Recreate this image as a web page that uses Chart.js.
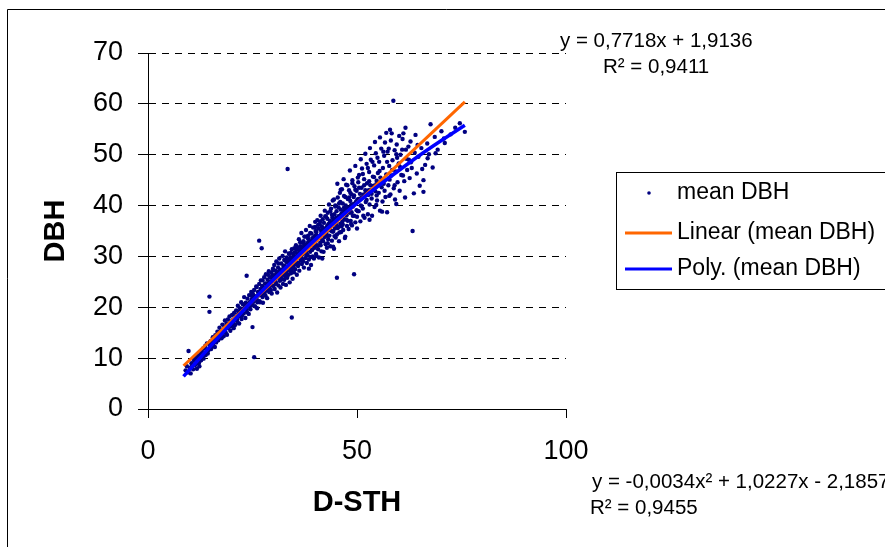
<!DOCTYPE html>
<html>
<head>
<meta charset="utf-8">
<script src="https://cdn.jsdelivr.net/npm/chart.js@4/dist/chart.umd.min.js"></script>
<style>
  html, body { margin: 0; padding: 0; background: #fff; }
  #wrap { width: 885px; height: 547px; }
</style>
</head>
<body>
<div id="wrap"><canvas id="dbhChart" width="885" height="547"></canvas></div>
<script>
// D-STH (x) vs mean DBH (y)
const meanDbhPoints = [
  [9.0,7.6],[9.3,8.4],[9.6,7.2],[9.7,11.4],[10.0,8.1],[10.2,7.0],[10.4,9.0],[10.5,8.3],[10.8,7.8],[11.0,9.6],[11.2,8.6],[11.3,10.1],[11.5,8.9],[11.7,7.9],[11.9,9.9],[12.0,10.5],[12.2,9.2],[12.3,8.4],
  [12.5,10.8],[12.7,9.6],[12.9,11.3],[13.0,10.2],[13.2,11.9],[13.3,9.9],[13.5,11.0],[13.7,12.4],[13.8,10.6],[14.0,11.7],[14.1,12.9],[14.3,10.9],[14.5,11.6],[14.7,22.1],[14.7,19.1],[14.8,12.6],[15.0,13.4],[15.1,11.8],[15.3,12.3],[15.5,14.1],[15.6,12.9],[15.8,13.6],[16.0,12.2],[16.1,14.5],[16.3,13.1],
  [16.5,14.0],[16.6,15.2],[16.8,13.5],[17.0,14.6],[17.1,16.0],[17.3,14.2],[17.5,15.5],[17.6,13.9],[17.8,16.6],[18.0,15.1],[18.1,14.3],[18.3,16.2],[18.4,17.4],[18.6,15.0],[18.8,16.8],[18.9,14.6],[19.1,17.6],[19.2,15.9],[19.4,16.5],[19.5,18.2],[19.7,15.4],[19.8,17.2],[20.0,16.3],[20.1,18.5],[20.3,17.0],
  [20.5,15.9],[20.6,18.9],[20.8,17.5],[20.9,16.6],[21.1,19.4],[21.2,18.0],[21.4,17.1],[21.5,20.3],[21.7,18.6],[21.8,16.8],[22.0,19.8],[22.1,18.2],[22.3,21.0],[22.4,17.7],[22.6,19.3],[22.7,20.6],[22.9,18.8],[23.0,22.0],[23.1,19.9],[23.3,17.9],[23.4,20.9],[23.6,26.2],[23.6,19.5],[23.8,21.7],[23.9,20.2],[24.1,18.7],[24.2,22.4],[24.4,21.0],[24.5,19.6],[24.7,23.0],[24.8,21.5],[25.0,16.1],[25.0,20.4],[25.1,22.6],
  [25.3,21.1],[25.4,10.2],[25.4,23.4],[25.6,20.2],[25.7,22.0],[25.9,24.1],[26.0,21.6],[26.1,19.8],[26.3,23.0],[26.4,22.3],[26.6,33.1],[26.6,24.6],[26.7,21.2],[26.9,23.6],[27.0,25.3],[27.2,31.6],[27.2,22.5],[27.3,24.2],[27.5,20.9],[27.6,23.9],[27.8,25.9],[27.9,22.8],[28.0,24.7],[28.2,26.5],[28.3,23.3],[28.5,21.8],[28.6,25.4],[28.8,24.0],[28.9,27.1],[29.0,23.0],[29.2,25.9],[29.3,24.5],[29.5,26.8],[29.6,22.7],[29.8,25.1],[29.9,27.6],[30.0,24.2],
  [30.1,26.0],[30.2,28.3],[30.3,23.6],[30.4,25.4],[30.5,27.2],[30.6,24.8],[30.7,29.0],[30.8,26.6],[30.9,22.9],[31.0,25.9],[31.1,27.8],[31.2,24.3],[31.3,26.9],[31.4,29.6],[31.5,25.2],[31.6,27.4],[31.7,23.9],[31.8,26.3],[31.9,28.6],[32.0,25.7],[32.1,27.0],[32.2,30.1],[32.3,24.6],[32.4,26.8],[32.5,28.2],[32.6,25.4],[32.7,27.6],[32.8,31.0],[32.9,26.1],[33.0,24.4],[33.1,28.9],[33.2,27.1],[33.3,25.8],[33.4,47.2],[33.4,29.5],[33.5,27.9],[33.6,26.4],[33.7,30.6],[33.8,28.0],[33.9,24.9],[34.0,27.3],[34.1,29.8],[34.2,26.7],[34.3,28.6],[34.4,18.0],[34.4,31.4],[34.5,27.7],[34.6,25.6],[34.7,29.2],[34.8,30.3],[34.9,26.9],[35.0,28.4],
  [35.1,30.8],[35.2,27.5],[35.3,29.6],[35.4,32.2],[35.5,28.8],[35.6,26.4],[35.7,30.1],[35.8,31.6],[35.9,28.1],[36.0,29.9],[36.1,33.4],[36.2,27.2],[36.3,30.7],[36.4,32.0],[36.5,29.3],[36.6,31.2],[36.7,34.6],[36.8,28.5],[36.9,30.4],[37.0,32.7],[37.1,29.0],[37.2,31.5],[37.3,27.8],[37.4,33.9],[37.5,30.6],[37.6,32.3],[37.7,29.7],[37.8,35.2],[37.9,31.0],[38.0,28.7],[38.1,32.6],[38.2,30.2],[38.3,34.1],[38.4,31.8],[38.5,29.4],[38.6,33.0],[38.7,36.0],[38.8,30.9],[38.9,32.4],[39.0,28.3],[39.1,34.5],[39.2,31.3],[39.3,33.6],[39.4,30.0],[39.5,35.7],[39.6,32.1],[39.7,29.6],[39.8,34.0],[39.9,31.7],[40.0,36.8],
  [40.1,33.0],[40.2,30.5],[40.3,34.8],[40.4,32.2],[40.5,37.1],[40.6,33.9],[40.7,31.4],[40.8,35.5],[40.9,29.8],[41.0,33.6],[41.1,36.4],[41.2,32.7],[41.3,38.0],[41.4,34.4],[41.5,31.0],[41.6,35.9],[41.7,33.2],[41.8,37.3],[41.9,34.9],[42.0,30.9],[42.1,36.6],[42.2,33.8],[42.3,39.0],[42.4,35.2],[42.5,32.4],[42.6,37.8],[42.7,34.6],[42.8,31.7],[42.9,36.1],[43.0,38.6],[43.1,33.4],[43.2,35.7],[43.3,40.2],[43.4,34.1],[43.5,37.0],[43.6,32.0],[43.7,36.3],[43.8,39.4],[43.9,35.0],[44.0,33.1],[44.1,37.6],[44.2,41.0],[44.3,34.9],[44.4,36.8],[44.5,31.5],[44.6,38.3],[44.7,35.5],[44.8,40.0],[44.9,33.7],[45.0,36.2],[45.2,25.8],
  [45.1,38.9],[45.2,34.3],[45.3,37.4],[45.4,41.6],[45.5,35.8],[45.6,39.6],[45.7,33.0],[45.8,37.9],[45.9,42.5],[46.0,36.4],[46.1,39.2],[46.2,34.8],[46.3,38.4],[46.4,43.2],[46.5,36.9],[46.6,40.4],[46.7,35.2],[46.8,38.8],[46.9,41.9],[47.0,37.3],[47.2,33.9],[47.3,40.0],[47.4,44.1],[47.5,38.1],[47.6,36.0],[47.8,41.3],[47.9,39.3],[48.0,35.4],[48.1,43.0],[48.3,38.6],[48.4,40.9],[48.5,37.0],[48.7,42.2],[48.8,36.1],[48.9,45.0],[49.0,39.8],[49.2,41.7],[49.3,26.5],[49.3,38.0],[49.4,43.8],[49.6,36.7],[49.7,40.6],[49.9,42.9],[50.0,37.8],
  [50.1,41.2],[50.3,44.6],[50.4,38.9],[50.5,46.0],[50.7,42.3],[50.8,36.9],[50.9,40.0],[51.1,43.5],[51.2,47.3],[51.4,39.4],[51.5,41.9],[51.7,45.2],[51.8,37.6],[52.0,43.0],[52.1,40.7],[52.3,48.2],[52.4,44.4],[52.6,38.3],[52.7,42.1],[52.9,46.6],[53.0,40.2],[53.2,44.0],[53.3,49.0],[53.5,41.4],[53.6,38.0],[53.8,45.7],[53.9,43.2],[54.1,47.9],[54.2,39.7],[54.4,42.8],[54.5,50.3],[54.7,44.9],[54.8,41.0],[55.0,46.4],
  [55.2,42.5],[55.3,48.6],[55.5,39.0],[55.6,45.5],[55.8,51.2],[55.9,43.6],[56.1,40.8],[56.2,47.4],[56.4,44.3],[56.5,49.8],[56.7,52.4],[56.8,41.7],[57.0,46.1],[57.2,38.7],[57.3,50.6],[57.5,44.0],[57.7,47.8],[57.9,54.9],[58.0,42.2],[58.2,45.9],[58.3,54.2],[58.5,48.9],[58.7,60.6],[58.8,43.4],[59.0,50.9],[59.1,41.2],[59.3,46.7],[59.5,52.0],[59.7,44.6],[60.0,48.3],
  [60.2,42.9],[60.4,50.0],[60.6,46.0],[60.9,53.1],[61.1,54.2],[61.3,44.8],[61.5,41.6],[61.8,49.2],[62.0,47.0],[62.3,51.6],[62.6,45.4],[62.9,48.5],[63.3,35.0],[63.6,42.4],[63.8,50.4],[64.0,53.9],[64.3,46.3],[64.7,49.6],[65.0,43.9],[65.4,51.3],[65.9,45.0],[65.9,42.7],[66.3,48.0],[66.8,52.2],[67.2,50.1],[67.6,56.0],[68.1,47.5],[68.6,53.5],[69.3,51.0],[70.2,54.6],[71.0,52.3],[72.4,54.0],[73.5,55.3],[74.6,56.2],[75.8,54.5],
  [20.4,17.6],[21.0,18.1],[21.6,18.8],[22.2,19.0],[22.8,19.6],[23.5,20.1],[24.0,20.7],[24.6,21.0],[25.2,21.9],[25.8,22.2],[26.5,22.9],[27.1,23.4],[27.7,23.6],[28.4,24.6],[29.1,25.0],[29.7,25.6],
  [30.3,26.3],[30.8,25.9],[31.3,27.0],[31.9,27.3],[32.4,27.9],[32.9,28.1],[33.5,28.9],[34.0,29.2],[34.6,29.6],[35.1,29.9],[35.7,30.6],[36.2,31.2],[36.8,31.4],[37.3,32.0],[37.9,32.3],[38.4,32.8],[39.0,33.0],[39.6,33.6],
  [40.2,34.2],[40.8,34.0],[41.4,35.1],[42.0,35.3],[42.6,35.6],[43.2,36.4],[43.8,36.6],[44.4,37.2],[45.0,37.6],[45.6,37.9],[46.2,38.2],[46.8,38.9],[47.4,39.3],[48.0,39.6],[48.6,40.1],[49.2,40.3],[49.8,40.8],[50.4,41.3],[51.0,41.5],[51.6,42.2],[52.2,42.5],[52.8,43.0],[53.4,43.1],[54.0,43.9],[54.6,44.2],
  [26.0,24.0],[27.4,25.3],[28.7,26.4],[30.0,27.3],[31.2,28.6],[32.6,29.3],[33.8,30.5],[35.0,31.6],[36.4,32.8],[37.6,33.9],[38.8,34.6],[40.0,35.8],[41.2,36.9],[42.4,37.9],[43.6,38.9],[44.8,39.8],[46.0,40.7],[47.2,41.7],[48.4,42.5],[49.6,43.1],
  [26.8,21.0],[28.1,22.3],[29.4,23.4],[30.6,24.6],[31.8,25.4],[33.1,26.7],[34.3,27.4],[35.6,28.5],[36.9,29.5],[38.1,30.3],[39.3,31.3],[40.6,32.1],[41.9,33.0],[43.0,34.0],[44.2,34.9],[45.4,35.6],[46.6,36.3],[47.8,37.0],[49.0,38.0],[50.2,38.9],
  [10.6,8.8],[11.4,9.3],[12.1,9.0],[12.8,10.3],[13.4,10.7],[14.2,11.2],[14.9,11.9],[15.4,13.0],[16.2,13.5],[16.9,14.1],[17.4,14.8],[18.2,15.6],[18.7,15.9],[19.3,16.1],[19.9,16.8],
  [20.7,16.4],[21.3,17.6],[21.9,19.2],[22.5,18.4],[23.2,20.5],[23.7,19.0],[24.3,20.1],[24.9,22.1],[25.5,21.5],[26.2,21.0],[26.8,22.4],[27.4,22.0],[28.0,23.9],[28.6,23.6],[29.2,24.2],[29.8,26.3],
  [30.5,25.0],[31.5,26.2],[32.5,26.4],[33.2,29.8],[34.2,30.7],[34.8,28.0],[35.5,31.3],[36.0,28.7],[36.6,30.0],[37.2,33.0],[37.8,30.5],[38.3,33.5],[38.9,29.9],[39.5,32.7],[40.1,35.0],[40.7,36.2],[41.3,32.2],[41.8,35.6],[42.3,34.1],[42.9,37.4],[43.5,35.2],[44.0,38.2],[44.6,34.0],[45.1,36.9],[45.7,40.4],[46.3,35.9],[46.9,39.6],[47.5,37.2],[48.1,41.6],[48.7,38.7],[49.3,42.0],[49.9,39.1],
  [50.5,43.5],[51.1,39.9],[51.7,44.0],[52.3,41.1],[52.9,44.8],[53.5,42.3],[54.1,45.6],[54.7,42.0],[55.4,46.8],[56.0,44.9],[56.6,42.9],[57.2,48.6],[57.8,45.1],[58.4,47.0],[59.0,44.0],[59.6,49.4],[60.3,47.6],[61.0,45.9],[61.7,51.0],[62.4,49.0],[63.1,47.4],[64.5,51.9],[65.6,47.2],[66.9,49.3],[68.8,50.3],[70.8,53.2],
  [44.5,41.2],[45.3,44.3],[46.1,43.1],[46.8,45.2],[47.7,44.0],[48.3,46.9],[48.9,44.4],[49.6,47.8],[50.2,45.5],[50.9,49.1],[51.4,46.2],[52.0,50.2],[52.6,47.4],[53.1,51.3],[53.7,48.6],[54.3,52.5],[54.9,49.4],[55.5,53.4],[56.3,50.6],[57.0,54.3],[57.6,51.2],[58.1,52.8],[59.4,50.1],[60.1,53.7],[60.8,51.0],[61.6,55.3],[62.8,52.6],
  [38.5,27.6],[40.3,30.1],[41.7,29.6],[43.0,32.6],[44.3,31.9],[45.8,34.7],[47.1,33.6],[48.6,36.4],[50.0,35.5],[51.5,38.0],[53.0,37.2],[54.6,40.1],[56.0,38.8],[57.7,41.9],[59.4,40.3]
];

// trend lines
const linearX = [8.5, 75.8];
const linearY = [8.5, 60.4];
const polyX = [8.5, 15, 20, 25, 30, 35, 40, 45, 50, 55, 60, 65, 70, 75.8];
const polyY = [6.4, 12.4, 16.9, 21.3, 25.4, 29.4, 33.3, 37.0, 40.5, 43.8, 46.9, 49.9, 52.7, 55.8];

const xTicks = [0, 50, 100];
const yTicks = [0, 10, 20, 30, 40, 50, 60, 70];
const seriesNames = ['mean DBH', 'Linear (mean DBH)', 'Poly. (mean DBH)'];
const linearNote = ['y = 0,7718x + 1,9136', 'R² = 0,9411'];
const polyNote = ['y = -0,0034x² + 1,0227x - 2,1857', 'R² = 0,9455'];

const FONT = "'Liberation Sans', Arial, sans-serif";
const pointColor = '#000080';
const linearColor = '#FF6600';
const polyColor = '#0000FF';

function toXY(xs, ys) {
  return xs.map((x, i) => ({ x: x, y: ys[i] }));
}

const decorPlugin = {
  id: 'decor',
  beforeDraw(chart) {
    const ctx = chart.ctx;
    ctx.save();
    ctx.fillStyle = '#fff';
    ctx.fillRect(0, 0, chart.width, chart.height);
    ctx.strokeStyle = '#000';
    ctx.lineWidth = 1;
    ctx.beginPath();
    ctx.moveTo(7.5, chart.height + 2);
    ctx.lineTo(7.5, 9.5);
    ctx.lineTo(chart.width + 2, 9.5);
    ctx.stroke();
    ctx.restore();
  },
  afterDraw(chart) {
    const ctx = chart.ctx;
    ctx.save();

    // legend box
    ctx.strokeStyle = '#000';
    ctx.lineWidth = 1;
    ctx.strokeRect(616.5, 172.5, 300, 117);
    ctx.font = '23px ' + FONT;
    ctx.textBaseline = 'middle';
    ctx.textAlign = 'left';
    const rows = [193, 233, 269];
    ctx.fillStyle = pointColor;
    ctx.beginPath();
    ctx.arc(649, rows[0], 1.8, 0, Math.PI * 2);
    ctx.fill();
    ctx.lineWidth = 3;
    ctx.strokeStyle = linearColor;
    ctx.beginPath(); ctx.moveTo(625, rows[1]); ctx.lineTo(672, rows[1]); ctx.stroke();
    ctx.strokeStyle = polyColor;
    ctx.beginPath(); ctx.moveTo(625, rows[2]); ctx.lineTo(672, rows[2]); ctx.stroke();
    ctx.fillStyle = '#000';
    seriesNames.forEach((name, i) => ctx.fillText(name, 677, rows[i]));

    // trendline equations
    ctx.font = '20.5px ' + FONT;
    ctx.fillText(linearNote[0], 560, 41);
    ctx.fillText(linearNote[1], 603, 67);
    ctx.fillText(polyNote[0], 592, 482);
    ctx.fillText(polyNote[1], 590, 508);
    ctx.restore();
  }
};

const chart = new Chart(document.getElementById('dbhChart'), {
  type: 'scatter',
  data: {
    datasets: [
      {
        label: seriesNames[0],
        data: meanDbhPoints.map(p => ({ x: p[0], y: p[1] })),
        backgroundColor: pointColor,
        borderWidth: 0,
        pointRadius: 2.2,
        order: 2
      },
      {
        label: seriesNames[1],
        data: toXY(linearX, linearY),
        showLine: true,
        borderColor: linearColor,
        borderWidth: 3,
        pointRadius: 0,
        order: 1
      },
      {
        label: seriesNames[2],
        data: toXY(polyX, polyY),
        showLine: true,
        borderColor: polyColor,
        borderWidth: 3.5,
        pointRadius: 0,
        cubicInterpolationMode: 'monotone',
        order: 0
      }
    ]
  },
  options: {
    responsive: false,
    animation: false,
    events: [],
    layout: { padding: { left: 0, top: 53, right: 319, bottom: 0 } },
    plugins: { legend: { display: false }, tooltip: { enabled: false } },
    scales: {
      x: {
        type: 'linear',
        min: 0,
        max: 100,
        afterBuildTicks: scale => { scale.ticks = xTicks.map(v => ({ value: v })); },
        afterFit: scale => { scale.height = 138; },
        ticks: { color: '#000', font: { family: FONT, size: 27 }, padding: 17 },
        grid: { drawOnChartArea: false, tickLength: 9, tickColor: '#000', color: '#000' },
        border: { display: true, color: '#000', width: 1 },
        title: {
          display: true, text: 'D-STH', color: '#000',
          font: { family: FONT, size: 29, weight: 'bold' },
          padding: { top: 0, bottom: 27 }
        }
      },
      y: {
        type: 'linear',
        min: 0,
        max: 70,
        afterBuildTicks: scale => { scale.ticks = yTicks.map(v => ({ value: v })); },
        afterFit: scale => { scale.width = 148; },
        ticks: { color: '#000', font: { family: FONT, size: 27 }, padding: 15 },
        grid: {
          color: ctx => (ctx.tick && ctx.tick.value === 0 ? 'rgba(0,0,0,0)' : '#000'),
          tickColor: '#000',
          tickLength: 10,
          lineWidth: 1
        },
        border: { display: true, color: '#000', width: 1, dash: [7, 6] },
        title: {
          display: true, text: 'DBH', color: '#000',
          font: { family: FONT, size: 29, weight: 'bold' },
          padding: { top: 39, bottom: 0 }
        }
      }
    }
  },
  plugins: [decorPlugin]
});
</script>
</body>
</html>
